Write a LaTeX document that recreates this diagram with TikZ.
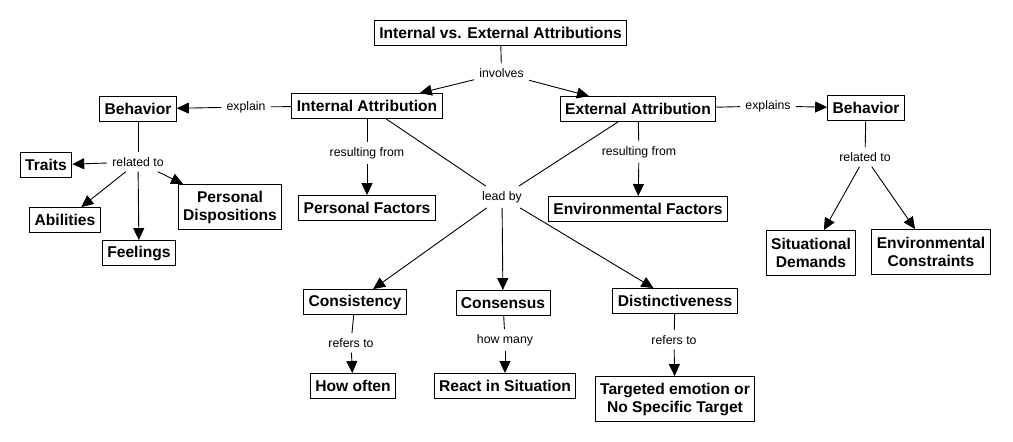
\documentclass[tikz,border=0pt]{standalone}
\usepackage{fontspec}
\setmainfont{Liberation Sans}
\usetikzlibrary{arrows.meta}
\begin{document}
\begin{tikzpicture}[x=1pt,y=-1pt,
 box/.style={draw, line width=0.9pt, font=\bfseries\fontsize{15.6}{18}\selectfont, inner xsep=5pt, inner ysep=0pt, minimum height=25pt, align=center},
 box2/.style={box, minimum height=45pt},
 lab/.style={font=\fontsize{12.3}{14}\selectfont, inner sep=5pt},
 con/.style={line width=0.9pt},
 arr/.style={con, -{Triangle[length=12pt,width=11pt]}}]
\fill[white] (0,0) rectangle (1013,442);
\useasboundingbox (0,0) rectangle (1013,442);

% boxes
\node[box] (title) at (500.5,33) {Internal vs. External Attributions};
\node[box] (ia) at (367,106) {Internal Attribution};
\node[box] (ea) at (638,109) {External Attribution};
\node[box] (behL) at (138,109) {Behavior};
\node[box] (behR) at (866,108) {Behavior};
\node[box] (traits) at (46,165) {Traits};
\node[box] (abil) at (65,220) {Abilities};
\node[box] (feel) at (139,253) {Feelings};
\node[box2] (pd) at (230,207) {Personal\\Dispositions};
\node[box] (pf) at (367,208) {Personal Factors};
\node[box] (ef) at (638,209) {Environmental Factors};
\node[box2] (sit) at (811,253) {Situational\\Demands};
\node[box2] (envc) at (931,252) {Environmental\\Constraints};
\node[box] (cons) at (355,302) {Consistency};
\node[box] (consen) at (503,303) {Consensus};
\node[box] (dist) at (675,301) {Distinctiveness};
\node[box] (howoften) at (353,386) {How often};
\node[box] (react) at (505,386) {React in Situation};
\node[box2] (target) at (675,399) {Targeted emotion or\\No Specific Target};

% labels
\node[lab] (involves) at (501.5,73) {involves};
\node[lab] (explain) at (246,107) {explain};
\node[lab] (explains) at (768,106) {explains};
\node[lab] (relL) at (138,162) {related to};
\node[lab] (relR) at (865,157) {related to};
\node[lab] (resL) at (367,153) {resulting from};
\node[lab] (resR) at (639,152) {resulting from};
\node[lab] (leadby) at (502,197) {lead by};
\node[lab] (ref1) at (351,343) {refers to};
\node[lab] (howmany) at (505,340) {how many};
\node[lab] (ref2) at (674,340) {refers to};

% connectors
\draw[con] (title) -- (involves);
\draw[arr] (involves) -- (ia);
\draw[arr] (involves) -- (ea);
\draw[con] (ia) -- (explain);
\draw[arr] (explain) -- (behL);
\draw[con] (ea) -- (explains);
\draw[arr] (explains) -- (behR);
\draw[con] (behL) -- (relL);
\draw[arr] (relL) -- (traits);
\draw[arr] (relL) -- (abil);
\draw[arr] (relL) -- (feel);
\draw[arr] (relL) -- (pd);
\draw[con] (ia) -- (resL);
\draw[arr] (resL) -- (pf);
\draw[con] (ea) -- (resR);
\draw[arr] (resR) -- (ef);
\draw[con] (ia) -- (leadby);
\draw[con] (ea) -- (leadby);
\draw[arr] (leadby) -- (cons);
\draw[arr] (leadby) -- (consen);
\draw[arr] (leadby) -- (dist);
\draw[con] (cons) -- (ref1);
\draw[arr] (ref1) -- (howoften);
\draw[con] (consen) -- (howmany);
\draw[arr] (howmany) -- (react);
\draw[con] (dist) -- (ref2);
\draw[arr] (ref2) -- (target);
\draw[con] (behR) -- (relR);
\draw[arr] (relR) -- (sit);
\draw[arr] (relR) -- (envc);
\end{tikzpicture}
\end{document}
